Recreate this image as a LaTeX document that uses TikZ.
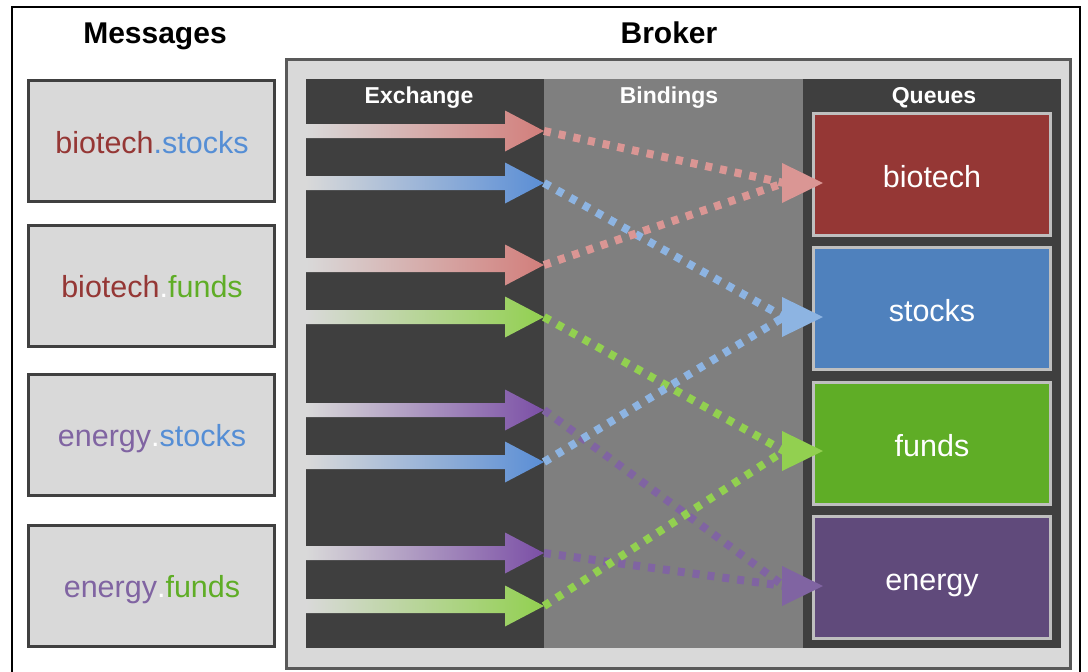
\documentclass[tikz,border=0pt]{standalone}
\usepackage{fontspec}
\setmainfont{Liberation Sans}
\definecolor{panel}{HTML}{D9D9D9}
\definecolor{panelline}{HTML}{404040}
\definecolor{brokerline}{HTML}{595959}
\definecolor{darkcol}{HTML}{3F3F3F}
\definecolor{midcol}{HTML}{7F7F7F}
\definecolor{qline}{HTML}{BFBFBF}
\definecolor{qbiotech}{HTML}{953735}
\definecolor{qstocks}{HTML}{4F81BD}
\definecolor{qfunds}{HTML}{5FAD26}
\definecolor{qenergy}{HTML}{604A7B}
\definecolor{tbiotech}{HTML}{953735}
\definecolor{tstocks}{HTML}{558ED5}
\definecolor{tfunds}{HTML}{5FAD26}
\definecolor{tenergy}{HTML}{8064A2}
\definecolor{exred}{HTML}{D27E7B}
\definecolor{exblue}{HTML}{5A8ED6}
\definecolor{expurple}{HTML}{7B4FA6}
\definecolor{exgreen}{HTML}{92D050}
\definecolor{bred}{HTML}{DA9694}
\definecolor{bblue}{HTML}{8DB4E2}
\definecolor{bgreen}{HTML}{92D050}
\definecolor{bpurple}{HTML}{8064A2}
\begin{document}
\begin{tikzpicture}[x=1pt,y=-1pt,
  title/.style={font=\fontsize{30pt}{36pt}\selectfont\bfseries, text=black, anchor=base, inner sep=0pt},
  header/.style={font=\fontsize{23pt}{27pt}\selectfont\bfseries, text=white, anchor=base, inner sep=0pt},
  msgbox/.style={draw=panelline, fill=panel, line width=3pt, inner sep=0pt, anchor=north west,
    minimum width=246pt, minimum height=121pt},
  msgtext/.style={font=\fontsize{30.5pt}{36pt}\selectfont, anchor=base, inner sep=0pt},
  column/.style={inner sep=0pt, outer sep=0pt, anchor=north west, minimum height=569pt},
  queue/.style={draw=qline, line width=3pt, inner sep=0pt, anchor=north west,
    minimum width=237pt, minimum height=122pt},
  qtext/.style={font=\fontsize{30.5pt}{36pt}\selectfont, text=white, anchor=base, inner sep=0pt},
  bind/.style={line width=8pt, dash pattern=on 7pt off 8pt}
]
\useasboundingbox (0,0) rectangle (1088,672);
% outer frame
\draw[line width=2.5pt] (12,7) rectangle (1080,700);

% titles
\node[title] (msgtitle) at (155,43) {Messages};
\node[title] (brokertitle) at (669,43) {Broker};

% message boxes
\node[msgbox] (m1) at (27,79) {};
\node[msgbox] (m2) at (27,224) {};
\node[msgbox] (m3) at (27,373) {};
\node[msgbox] (m4) at (27,524) {};
\node[msgtext] (m1t) at (152,153) {\textcolor{tbiotech}{biotech}\textcolor{tstocks}{.stocks}};
\node[msgtext] (m2t) at (152,297) {\textcolor{tbiotech}{biotech}\textcolor{white}{.}\textcolor{tfunds}{funds}};
\node[msgtext] (m3t) at (152,446) {\textcolor{tenergy}{energy}\textcolor{white}{.}\textcolor{tstocks}{stocks}};
\node[msgtext] (m4t) at (152,597) {\textcolor{tenergy}{energy}\textcolor{white}{.}\textcolor{tfunds}{funds}};

% broker frame and its three columns
\node[draw=brokerline, fill=panel, line width=3pt, inner sep=0pt, anchor=north west,
  minimum width=784pt, minimum height=609pt] (broker) at (285,58) {};
\node[column, fill=darkcol, minimum width=238pt] (exchange) at (306,79) {};
\node[column, fill=midcol, minimum width=259pt] (bindings) at (544,79) {};
\node[column, fill=darkcol, minimum width=258pt] (queues) at (803,79) {};
\node[header] (hex) at (419,103) {Exchange};
\node[header] (hbi) at (669,103) {Bindings};
\node[header] (hqu) at (934,103) {Queues};

% queues
\node[queue, fill=qbiotech] (qb) at (812,112) {};
\node[queue, fill=qstocks]  (qs) at (812,246) {};
\node[queue, fill=qfunds]   (qf) at (812,381) {};
\node[queue, fill=qenergy]  (qe) at (812,515) {};
\node[qtext] (qbt) at (932,187) {biotech};
\node[qtext] (qst) at (932,321) {stocks};
\node[qtext] (qft) at (932,456) {funds};
\node[qtext] (qet) at (932,590) {energy};

% exchange arrows, fading in from the panel colour
\foreach \i/\y/\c in {1/131/exred, 2/183/exblue, 3/265/exred, 4/317/exgreen,
                      5/410/expurple, 6/462/exblue, 7/553/expurple, 8/606/exgreen} {
  \path[left color=panel, right color=\c]
    (306,\y-7) -- (505,\y-7) -- (505,\y-20.5) -- (544,\y) -- (505,\y+20.5)
    -- (505,\y+7) -- (306,\y+7) -- cycle;
  \coordinate (e\i) at (544,\y);
}

% queue inlets
\coordinate (inb) at (784,183);
\coordinate (ins) at (784,317);
\coordinate (inf) at (784,451);
\coordinate (ine) at (784,586);

% bindings
\draw[bind, bred]    (e1) -- (inb);
\draw[bind, bblue]   (e2) -- (ins);
\draw[bind, bred]    (e3) -- (inb);
\draw[bind, bgreen]  (e4) -- (inf);
\draw[bind, bpurple] (e5) -- (ine);
\draw[bind, bblue]   (e6) -- (ins);
\draw[bind, bpurple] (e7) -- (ine);
\draw[bind, bgreen]  (e8) -- (inf);

% arrowheads into the queues
\foreach \p/\c in {inb/bred, ins/bblue, inf/bgreen, ine/bpurple}
  \fill[\c, shift={(\p)}] (-2,-20) -- (39,0) -- (-2,20) -- cycle;
\end{tikzpicture}
\end{document}
